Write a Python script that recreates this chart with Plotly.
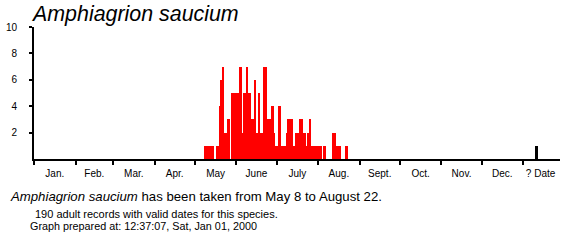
import plotly.graph_objects as go

# ---------------- data ----------------
# day-of-year (1 = Jan 1) and number of records that day
days = list(range(128, 135)) + [137, 138, 139, 140, 141, 142, 143, 144, 145, 146] + \
    list(range(148, 154)) + list(range(154, 215)) + [215, 217, 218, 223, 224, 225, 226, 227, 228, 229, 233, 234]
counts = [1] * 7 + [1, 1, 4, 6, 7, 7, 2, 2, 3, 3] + [5] * 6 + [
    7, 7, 2, 5, 5, 7, 7, 5, 5, 3, 3, 6, 6, 2, 5, 5, 2, 2, 7, 7, 7,  # 154-174
    3, 3, 3, 4, 4, 2, 1, 1, 4, 4,                                    # 175-184
    1, 1, 1, 1, 2, 3, 3, 3, 3, 1, 1, 2, 2, 2, 3, 3, 3, 2, 2, 1,      # 185-204
    2, 3, 3, 1, 1, 1, 1, 1, 1, 1,                                    # 205-214
] + [1, 1, 1, 2, 2, 2, 1, 1, 1, 1, 1, 1]
unknown_label = "? Date"
unknown_count = 1

month_labels = ["Jan.", "Feb.", "Mar.", "Apr.", "May", "June", "July", "Aug.",
                "Sept.", "Oct.", "Nov.", "Dec."]
month_lengths = [31, 28, 31, 30, 31, 30, 31, 31, 30, 31, 30, 31]
y_ticks = [2, 4, 6, 8, 10]

species = "Amphiagrion saucium"
first_date = "May 8"
last_date = "August 22"
n_records = 190
prepared = "12:37:07, Sat, Jan 01, 2000"

# ---------------- derived positions ----------------
bounds = [0]
for m in month_lengths:
    bounds.append(bounds[-1] + m)
mids = [(bounds[i] + bounds[i + 1]) / 2 for i in range(12)]
unknown_pos = 375
bar_x = [d - 0.5 for d in days]

FONT = "Liberation Sans, Arial, sans-serif"

fig = go.Figure()
fig.add_trace(go.Bar(x=bar_x, y=counts, width=1, marker=dict(color="#ff0000", line=dict(width=0)),
                     showlegend=False, hoverinfo="skip"))
fig.add_trace(go.Bar(x=[unknown_pos], y=[unknown_count], width=1.6,
                     marker=dict(color="#000000", line=dict(width=0)),
                     showlegend=False, hoverinfo="skip"))
# invisible trace to activate the label axis
fig.add_trace(go.Scatter(x=[mids[0]], y=[0], xaxis="x2", mode="markers",
                         marker=dict(opacity=0), showlegend=False, hoverinfo="skip"))

XR = [0, 392.5]
fig.update_layout(
    template="none",
    width=581, height=245,
    margin=dict(l=34, r=21, t=27, b=86, pad=0, autoexpand=False),
    paper_bgcolor="white", plot_bgcolor="white",
    barmode="overlay", bargap=0,
    font=dict(family=FONT, color="black", size=10),
    xaxis=dict(range=XR, showgrid=False, zeroline=False, showline=True, linecolor="black",
               linewidth=2, tickmode="array", tickvals=bounds, ticks="outside", ticklen=4,
               tickwidth=2, tickcolor="black", showticklabels=False, fixedrange=True,
               automargin=False),
    xaxis2=dict(range=XR, overlaying="x", anchor="y", side="bottom", showgrid=False,
                zeroline=False, showline=False, tickmode="array",
                tickvals=mids + [unknown_pos + 3], ticktext=month_labels + [unknown_label],
                ticks="", ticklabelstandoff=7, tickfont=dict(size=10, family=FONT),
                fixedrange=True, automargin=False),
    yaxis=dict(range=[0, 10], showgrid=False, zeroline=False, showline=True, linecolor="black",
               linewidth=2, tickmode="array", tickvals=y_ticks, ticks="outside", ticklen=3,
               tickwidth=2, tickcolor="black", ticklabelstandoff=10,
               tickfont=dict(size=10, family=FONT), fixedrange=True, automargin=False),
)

PW, PH = 526, 132


def px(xp):
    return (xp - 34) / PW


def py(yp):
    return (159 - yp) / PH


fig.add_annotation(text=f"<i>{species}</i>", x=px(29), y=py(14), xref="paper", yref="paper",
                   xanchor="left", yanchor="middle", showarrow=False,
                   font=dict(size=21.4, family=FONT, color="black"))
fig.add_annotation(text=f"<i>{species}</i> has been taken from {first_date} to {last_date}.",
                   x=px(8), y=py(196), xref="paper", yref="paper", xanchor="left",
                   yanchor="middle", showarrow=False, font=dict(size=13.2, family=FONT))
fig.add_annotation(text=f"{n_records} adult records with valid dates for this species.",
                   x=px(33), y=py(213.5), xref="paper", yref="paper", xanchor="left",
                   yanchor="middle", showarrow=False, font=dict(size=11, family=FONT))
fig.add_annotation(text=f"Graph prepared at: {prepared}",
                   x=px(28), y=py(226.5), xref="paper", yref="paper", xanchor="left",
                   yanchor="middle", showarrow=False, font=dict(size=10.8, family=FONT))

fig.write_html("out.html", config=dict(displayModeBar=False, staticPlot=True))
